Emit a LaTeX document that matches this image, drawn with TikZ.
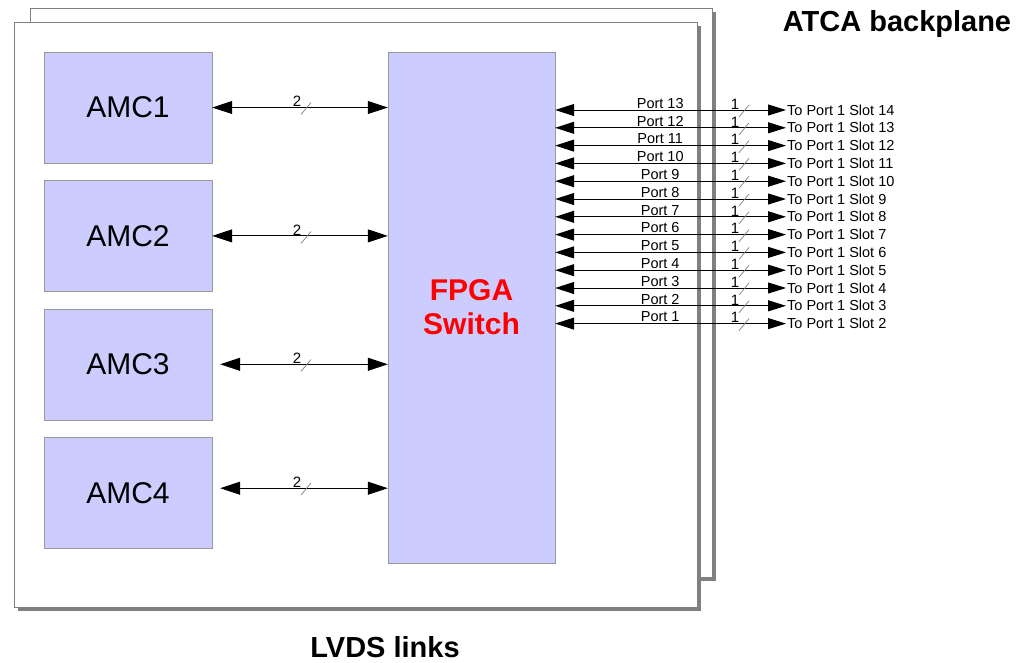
\documentclass[tikz,border=0pt]{standalone}
\usepackage{fontspec}
\setmainfont{Liberation Sans}
\usetikzlibrary{positioning,arrows.meta}

\definecolor{lav}{HTML}{CCCCFF}
\definecolor{rim}{HTML}{999999}
\definecolor{shadowgray}{HTML}{808080}

\tikzset{
  board/.style={draw=shadowgray, fill=white, line width=0.8pt},
  amcbox/.style={draw=rim, fill=lav, minimum width=168pt, minimum height=111pt, inner sep=0pt, font=\fontsize{30}{34}\selectfont},
  fpgabox/.style={draw=rim, fill=lav, minimum width=167pt, minimum height=511pt, inner sep=0pt, align=center, text=red, font=\fontsize{30}{34}\selectfont\bfseries},
  link/.style={{Triangle[length=20pt,width=13pt]}-{Triangle[length=20pt,width=13pt]}, line width=1pt},
  portlink/.style={{Triangle[length=19pt,width=12pt]}-{Triangle[length=18pt,width=11pt]}, line width=1pt},
  slash/.style={draw=gray, line width=0.7pt},
  wlbl/.style={anchor=south, inner sep=0.5pt, font=\fontsize{15}{15}\selectfont},
  portlbl/.style={anchor=south, inner sep=1pt, font=\fontsize{14.5}{15}\selectfont},
  slotlbl/.style={anchor=west, inner sep=1pt, font=\fontsize{14.5}{15}\selectfont},
  title/.style={font=\fontsize{29}{30}\selectfont\bfseries}
}

% bus width mark: name, x, y, width
\newcommand{\buswidth}[4]{%
  \draw[slash] (#2-5,#3+7) -- (#2+5,#3-5);
  \node[wlbl] (#1) at (#2-9,#3) {#4};}

\begin{document}
\begin{tikzpicture}[x=1pt,y=-1pt]
\useasboundingbox (0,0) rectangle (1036,662);

% boards with shadow
\fill[shadowgray] (34,12) rectangle (716,581);
\draw[board] (30,8) rectangle (712,577);
\fill[shadowgray] (18,26) rectangle (701,611);
\draw[board] (14,22) rectangle (697,607);

\node[amcbox] (amc1) at (128,107.5) {AMC1};
\node[amcbox, below=17pt of amc1] (amc2) {AMC2};
\node[amcbox, below=17pt of amc2] (amc3) {AMC3};
\node[amcbox, below=17pt of amc3] (amc4) {AMC4};
\node[fpgabox] (fpga) at (471.5,307.5) {FPGA\\Switch};

% AMC links
\draw[link] (amc1.east) -- (fpga.west |- amc1.east);
\draw[link] (amc2.east) -- (fpga.west |- amc2.east);
\draw[link] ([xshift=8pt]amc3.east) -- (fpga.west |- amc3.east);
\draw[link] ([xshift=8pt,yshift=4.5pt]amc4.east) coordinate (a4) -- (fpga.west |- a4);
\buswidth{w1}{306}{107.5}{2}
\buswidth{w2}{306}{236.5}{2}
\buswidth{w3}{306}{364.5}{2}
\buswidth{w4}{306}{488}{2}

% backplane ports
\foreach \i in {1,...,13}{
  \pgfmathsetmacro\py{110+(13-\i)*17.8}
  \pgfmathtruncatemacro\sl{\i+1}
  \node[slotlbl] (slot\i) at (786,\py) {To Port 1 Slot \sl};
  \draw[portlink] (fpga.east |- slot\i.west) -- (slot\i.west)
    node[portlbl, pos=0.455] (port\i) {Port \i};
  \buswidth{p\i}{744}{\py}{1}
}

\node[title] (atca) at (897,24) {ATCA backplane};
\node[title] (lvds) at (385,647) {LVDS links};
\end{tikzpicture}
\end{document}
